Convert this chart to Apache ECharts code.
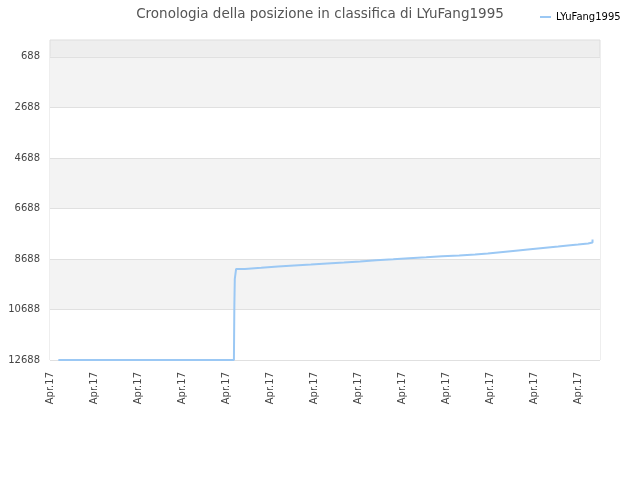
<!DOCTYPE html>
<html>
<head>
<meta charset="utf-8">
<script src="https://cdn.jsdelivr.net/npm/echarts@6/dist/echarts.min.js"></script>
<style>
html,body{margin:0;padding:0;background:#fff;}
#chart{width:640px;height:480px;}
</style>
</head>
<body>
<div id="chart"></div>
<script>
// Time position (in units of x-axis label steps) and rank
const timePos = [0.19, 4.18, 4.19, 4.20, 4.23, 4.43, 4.80, 5.18, 5.55, 5.93, 6.30, 6.68, 7.05, 7.41, 7.80, 8.16, 8.55, 8.91, 9.30, 9.66, 9.95, 10.18, 10.41, 10.64, 10.86, 11.09, 11.32, 11.55, 11.77, 12.00, 12.23, 12.33];
const ranks   = [12688, 12688, 10508, 9477, 9081, 9040, 8989, 8949, 8910, 8870, 8830, 8790, 8735, 8695, 8656, 8616, 8577, 8553, 8513, 8473, 8434, 8394, 8354, 8315, 8275, 8236, 8196, 8156, 8117, 8077, 8037, 7918];
const xTickPos = [0, 1, 2, 3, 4, 5, 6, 7, 8, 9, 10, 11, 12];
const xTickLabels = ['Apr.17', 'Apr.17', 'Apr.17', 'Apr.17', 'Apr.17', 'Apr.17', 'Apr.17', 'Apr.17', 'Apr.17', 'Apr.17', 'Apr.17', 'Apr.17', 'Apr.17'];
const yTicks = [688, 2688, 4688, 6688, 8688, 10688, 12688];
const seriesName = 'LYuFang1995';
const titleText = 'Cronologia della posizione in classifica di LYuFang1995';

const chart = echarts.init(document.getElementById('chart'), null, {renderer: 'canvas'});
const font = 'DejaVu Sans';
chart.setOption({
  animation: false,
  backgroundColor: '#ffffff',
  title: {
    text: titleText,
    left: 'center',
    top: 2,
    textStyle: {fontFamily: font, fontSize: 13.5, fontWeight: 'normal', color: '#555555'}
  },
  legend: {
    data: [seriesName],
    left: 535,
    top: 7,
    icon: 'rect',
    itemWidth: 11,
    itemHeight: 2,
    textStyle: {fontFamily: font, fontSize: 10, color: '#000000'}
  },
  grid: {
    left: 50, right: 40, top: 40, bottom: 120,
    show: true,
    backgroundColor: '#eeeeee',
    borderColor: '#dddddd',
    borderWidth: 1
  },
  xAxis: {
    type: 'value',
    min: 0,
    max: 12.5,
    axisLine: {show: false},
    axisTick: {show: false, customValues: xTickPos},
    splitLine: {show: false},
    axisLabel: {
      customValues: xTickPos,
      rotate: 90,
      margin: 12,
      fontFamily: font,
      fontSize: 10,
      color: '#444444',
      formatter: function (v) { return xTickLabels[xTickPos.indexOf(v)] || ''; }
    }
  },
  yAxis: {
    type: 'value',
    inverse: true,
    min: 20,
    max: 12688,
    axisLine: {show: false},
    axisTick: {show: false, customValues: yTicks},
    axisLabel: {
      customValues: yTicks,
      margin: 10,
      fontFamily: font,
      fontSize: 10,
      color: '#444444',
      verticalAlign: 'middle',
      padding: [4, 0, 0, 0],
      formatter: function (v) { return String(v); }
    },
    splitLine: {show: true, lineStyle: {color: '#e0e0e0', width: 1}},
    splitArea: {show: true, areaStyle: {color: ['#f3f3f3', '#ffffff']}}
  },
  series: [{
    name: seriesName,
    type: 'line',
    step: 'end',
    showSymbol: false,
    color: '#9bc8f4',
    lineStyle: {color: '#9bc8f4', width: 2},
    data: timePos.map((t, i) => [t, ranks[i]])
  }]
});
</script>
</body>
</html>
